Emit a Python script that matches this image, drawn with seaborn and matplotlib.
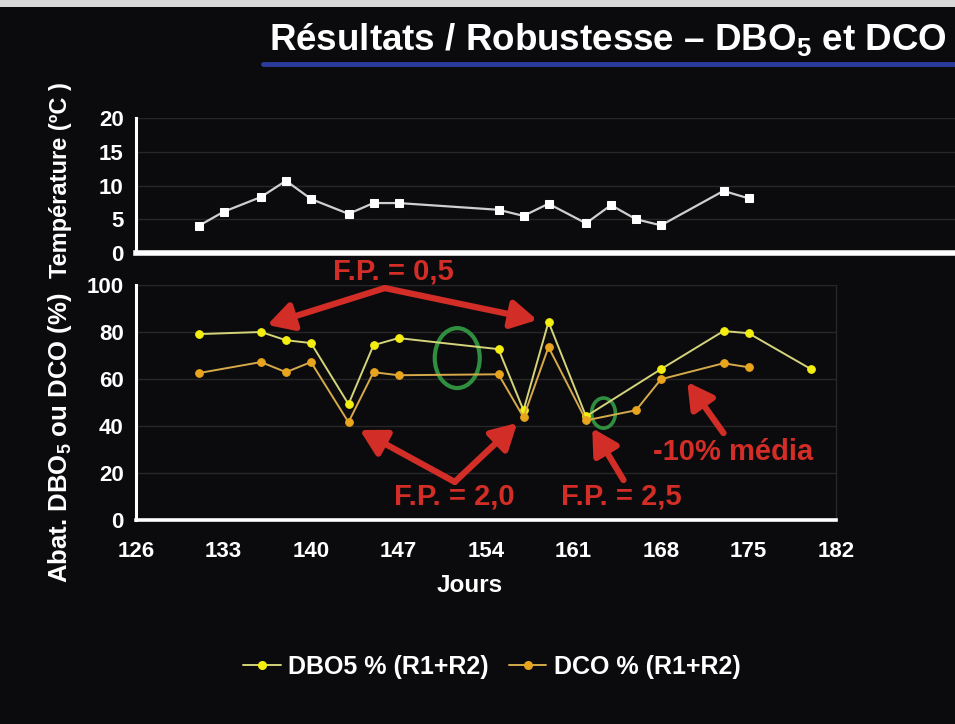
import matplotlib
matplotlib.use("Agg")
import matplotlib.pyplot as plt
import seaborn as sns
import pandas as pd
from matplotlib.patches import Ellipse, Rectangle
from matplotlib.lines import Line2D

# ---- data -------------------------------------------------------------
temp_days = [131, 133, 136, 138, 140, 143, 145, 147, 155, 157, 159, 162, 164, 166, 168, 173, 175]
temp_vals = [4.0, 6.1, 8.3, 10.7, 8.0, 5.8, 7.4, 7.4, 6.4, 5.5, 7.3, 4.4, 7.1, 5.0, 4.1, 9.2, 8.1]

dbo_days = [131, 136, 138, 140, 143, 145, 147, 155, 157, 159, 162, 168, 173, 175, 180]
dbo_vals = [79.1, 80.0, 76.5, 75.3, 49.3, 74.4, 77.4, 72.7, 46.7, 84.3, 44.1, 64.2, 80.4, 79.5, 64.2]

dco_days = [131, 136, 138, 140, 143, 145, 147, 155, 157, 159, 162, 166, 168, 173, 175]
dco_vals = [62.5, 67.2, 62.9, 67.2, 41.6, 62.9, 61.6, 62.0, 43.7, 73.6, 42.4, 46.7, 59.9, 66.7, 65.0]

x_ticks = [126, 133, 140, 147, 154, 161, 168, 175, 182]
temp_ticks = [0, 5, 10, 15, 20]
pct_ticks = [0, 20, 40, 60, 80, 100]

series_labels = ["DBO5 % (R1+R2)", "DCO % (R1+R2)"]

# ---- style ------------------------------------------------------------
sns.set_theme(style="dark")
FONT = ["Liberation Sans", "DejaVu Sans"]
plt.rcParams["font.family"] = FONT
plt.rcParams["mathtext.fontset"] = "custom"
plt.rcParams["mathtext.rm"] = "Liberation Sans"
plt.rcParams["mathtext.bf"] = "Liberation Sans:bold"

BG = "#0b0b0d"
RED = "#d22d26"
GREEN = "#2f8f3f"
GRID = "#272727"
YEL_LINE, YEL_MARK = "#d4d47a", "#f4ee10"
ORG_LINE, ORG_MARK = "#d6aa4a", "#e8a41c"

W, H = 955, 724
fig = plt.figure(figsize=(W / 100, H / 100), dpi=100, facecolor=BG)


def fx(px):
    return px / W


def fy(py):
    return 1 - py / H


# top strip and title
fig.add_artist(Rectangle((0, fy(7)), 1, 7 / H, transform=fig.transFigure,
                         color="#d9d9d9", lw=0))
fig.text(fx(608), fy(40), r"Résultats / Robustesse – DBO$_\mathbf{5}$ et DCO",
         ha="center", va="center", color="white", fontsize=26.5, weight="bold")
fig.add_artist(Line2D([fx(263), 1.0], [fy(64), fy(64)], transform=fig.transFigure,
                      color="#2c3c9c", lw=3.5))

# ---- axes ---------------------------------------------------------------
ax_t = fig.add_axes([fx(136), fy(253), fx(955) - fx(136), fy(118) - fy(253)])
ax_b = fig.add_axes([fx(136), fy(520), fx(836) - fx(136), fy(285) - fy(520)])

for ax in (ax_t, ax_b):
    ax.set_facecolor(BG)
    ax.grid(False)
    for s in ("top", "right"):
        ax.spines[s].set_visible(False)
    ax.spines["left"].set_color("white")
    ax.spines["left"].set_linewidth(2.2)
    ax.spines["bottom"].set_color("white")
    ax.tick_params(axis="both", colors="white", length=5, width=2,
                   labelsize=16, pad=4, direction="out")

# temperature panel
df_t = pd.DataFrame({"Jour": temp_days, "Temp": temp_vals})
sns.lineplot(data=df_t, x="Jour", y="Temp", ax=ax_t, color="#cfcfcf", lw=1.6,
             marker="s", markersize=6, markerfacecolor="white",
             markeredgecolor="white", legend=False)
ax_t.set_xlim(126, 126 + (955 - 135.7) / 12.505)
ax_t.set_ylim(0, 20)
ax_t.set_yticks(temp_ticks)
ax_t.set_xticks([])
ax_t.spines["bottom"].set_linewidth(4)
for v in temp_ticks[1:]:
    ax_t.axhline(v, color=GRID, lw=1, zorder=0)
ax_t.set_xlabel("")
ax_t.set_ylabel("")
for lab in ax_t.get_yticklabels():
    lab.set_fontweight("bold")

# removal panel
df_b = pd.concat([
    pd.DataFrame({"Jour": dbo_days, "Abat": dbo_vals, "Série": series_labels[0]}),
    pd.DataFrame({"Jour": dco_days, "Abat": dco_vals, "Série": series_labels[1]}),
])
line_cols = {series_labels[0]: YEL_LINE, series_labels[1]: ORG_LINE}
mark_cols = {series_labels[0]: YEL_MARK, series_labels[1]: ORG_MARK}
for name in series_labels:
    sub = df_b[df_b["Série"] == name]
    sns.lineplot(data=sub, x="Jour", y="Abat", ax=ax_b, color=line_cols[name],
                 lw=1.4, marker="o", markersize=5.5,
                 markerfacecolor=mark_cols[name], markeredgecolor=mark_cols[name],
                 label=name, legend=False)
ax_b.set_xlim(126, 182)
ax_b.set_ylim(0, 100)
ax_b.set_xticks(x_ticks)
ax_b.set_yticks(pct_ticks)
ax_b.spines["bottom"].set_linewidth(2.6)
ax_b.spines["right"].set_visible(True)
ax_b.spines["right"].set_color(GRID)
ax_b.spines["right"].set_linewidth(1)
for v in pct_ticks[1:]:
    ax_b.axhline(v, color=GRID, lw=1, zorder=0)
ax_b.tick_params(axis="x", length=7, pad=8)
ax_b.set_xlabel("")
ax_b.set_ylabel("")
for lab in ax_b.get_yticklabels() + ax_b.get_xticklabels():
    lab.set_fontweight("bold")

# axis titles
fig.text(fx(470), fy(585), "Jours", ha="center", va="center", color="white",
         fontsize=17.5, weight="bold")
fig.text(fx(60), fy(180), "Température (ºC )", ha="center", va="center",
         rotation=90, color="white", fontsize=17, weight="bold")
fig.text(fx(60), fy(438), r"Abat. DBO$_\mathbf{5}$ ou DCO (%)", ha="center",
         va="center", rotation=90, color="white", fontsize=18.5, weight="bold")

# ---- annotations ------------------------------------------------------
arrow_kw = dict(arrowstyle="-|>,head_length=0.9,head_width=0.5", color=RED,
                lw=4.5, shrinkA=0, shrinkB=0, mutation_scale=17)


def arrow(tail, head):
    ax_b.annotate("", xy=head, xytext=tail, arrowprops=arrow_kw,
                  annotation_clip=False)


arrow((145.9, 98.7), (136.5, 83.0))
arrow((145.9, 98.7), (158.1, 85.1))
arrow((151.5, 16.2), (143.9, 38.3))
arrow((151.5, 16.2), (156.5, 41.3))
arrow((165.0, 17.0), (162.5, 39.1))
arrow((173.0, 37.0), (170.1, 58.7))

txt_kw = dict(color=RED, fontsize=21, weight="bold", ha="center", va="center",
              clip_on=False)
ax_b.text(146.6, 105.8, "F.P. = 0,5", **txt_kw)
ax_b.text(151.5, 10.0, "F.P. = 2,0", **txt_kw)
ax_b.text(164.8, 10.0, "F.P. = 2,5", **txt_kw)
ax_b.text(173.8, 28.8, "-10% média", **txt_kw)

ax_b.add_patch(Ellipse((151.7, 68.9), 3.6, 25.5, fill=False, ec=GREEN, lw=3))
ax_b.add_patch(Ellipse((163.4, 45.5), 1.9, 12.8, fill=False, ec=GREEN, lw=2.6))

# ---- legend -----------------------------------------------------------
handles = [
    Line2D([], [], color=YEL_LINE, lw=1.4, marker="o", markersize=5.5,
           markerfacecolor=YEL_MARK, markeredgecolor=YEL_MARK),
    Line2D([], [], color=ORG_LINE, lw=1.4, marker="o", markersize=5.5,
           markerfacecolor=ORG_MARK, markeredgecolor=ORG_MARK),
]
leg = fig.legend(handles, series_labels, loc="center",
                 bbox_to_anchor=(fx(492), fy(667)), ncol=2, frameon=False,
                 handlelength=1.5, handletextpad=0.3, columnspacing=0.8,
                 prop={"family": FONT, "size": 18, "weight": "bold"})
for t in leg.get_texts():
    t.set_color("white")

fig.savefig("out.png", dpi=100, facecolor=BG)
